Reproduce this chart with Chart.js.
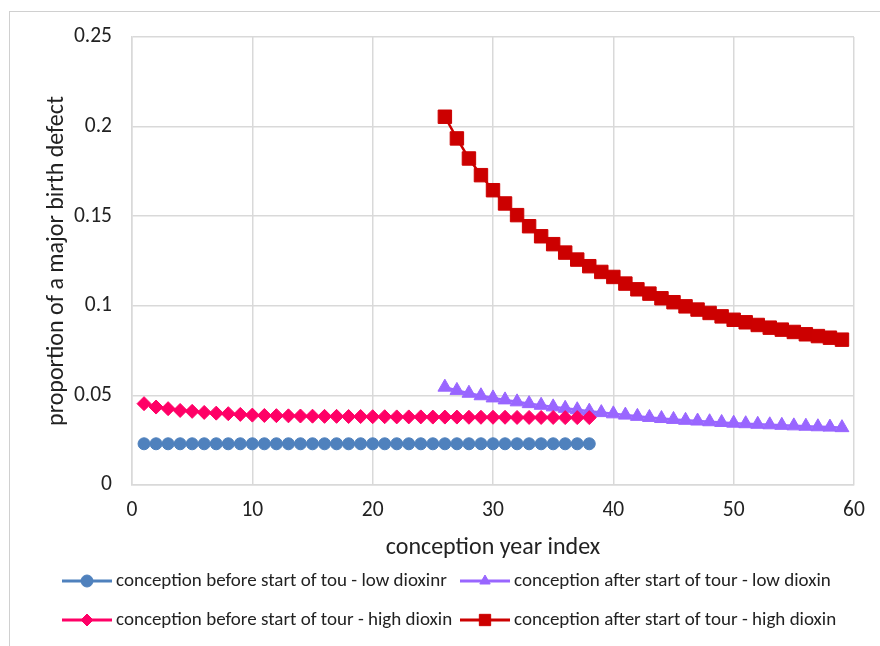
<!DOCTYPE html>
<html>
<head>
<meta charset="utf-8">
<script src="https://cdn.jsdelivr.net/npm/chart.js@4.4.1/dist/chart.umd.min.js"></script>
<style>
  html, body { margin: 0; padding: 0; background: #fff; overflow: hidden; }
  #wrap { position: relative; width: 880px; height: 646px; }
  #frame { position: absolute; left: 9px; top: 11px; width: 900px; height: 700px; border: 1px solid #d0d0d0; box-sizing: border-box; }
  canvas { position: absolute; left: 0; top: 0; }
</style>
</head>
<body>
<div id="wrap">
  <div id="frame"></div>
  <canvas id="chart" width="880" height="646"></canvas>
</div>
<script>
// conception year index
const yearsBefore = [1, 2, 3, 4, 5, 6, 7, 8, 9, 10, 11, 12, 13, 14, 15, 16, 17, 18, 19,
  20, 21, 22, 23, 24, 25, 26, 27, 28, 29, 30, 31, 32, 33, 34, 35, 36, 37, 38];
const yearsAfter = [26, 27, 28, 29, 30, 31, 32, 33, 34, 35, 36, 37, 38, 39, 40, 41, 42,
  43, 44, 45, 46, 47, 48, 49, 50, 51, 52, 53, 54, 55, 56, 57, 58, 59];

// proportion of a major birth defect
const beforeLow = [0.023, 0.023, 0.023, 0.023, 0.023, 0.023, 0.023, 0.023, 0.023, 0.023,
  0.023, 0.023, 0.023, 0.023, 0.023, 0.023, 0.023, 0.023, 0.023, 0.023, 0.023, 0.023,
  0.023, 0.023, 0.023, 0.023, 0.023, 0.023, 0.023, 0.023, 0.023, 0.023, 0.023, 0.023,
  0.023, 0.023, 0.023, 0.023];
const afterLow = [0.0546, 0.0528, 0.0512, 0.0498, 0.0486, 0.0475, 0.0464, 0.0454, 0.0445,
  0.0436, 0.0428, 0.0420, 0.0412, 0.0404, 0.0397, 0.0390, 0.0383, 0.0377, 0.0371, 0.0366,
  0.0361, 0.0357, 0.0353, 0.0349, 0.0345, 0.0342, 0.0339, 0.0336, 0.0333, 0.0330, 0.0328,
  0.0325, 0.0323, 0.0320];
const beforeHigh = [0.0454, 0.0435, 0.0426, 0.0416, 0.0411, 0.0405, 0.0401, 0.0398, 0.0394,
  0.0390, 0.0388, 0.0387, 0.0386, 0.0385, 0.0384, 0.0383, 0.0383, 0.0382, 0.0382, 0.0381,
  0.0381, 0.0380, 0.0380, 0.0380, 0.0379, 0.0379, 0.0379, 0.0378, 0.0378, 0.0378, 0.0378,
  0.0377, 0.0377, 0.0377, 0.0377, 0.0376, 0.0376, 0.0376];
const afterHigh = [0.2055, 0.1934, 0.1822, 0.1729, 0.1645, 0.1571, 0.1506, 0.1444, 0.1388,
  0.1344, 0.1297, 0.1258, 0.1221, 0.1189, 0.1161, 0.1124, 0.1092, 0.1068, 0.1042, 0.1020,
  0.0997, 0.0979, 0.0960, 0.0941, 0.0922, 0.0908, 0.0893, 0.0878, 0.0867, 0.0854, 0.0841,
  0.0831, 0.0822, 0.0811];

const seriesNames = [
  'conception before start of tou - low dioxinr',
  'conception after start of tour - low dioxin',
  'conception before start of tour - high dioxin',
  'conception after start of tour - high dioxin'
];

const FONT = "Carlito, Calibri, Lato, 'Open Sans', sans-serif";
const TEXT = '#222';
const GRID = '#d9d9d9';

function pts(xs, ys) {
  return xs.map((x, i) => ({ x: x, y: ys[i] }));
}

function series(label, xs, ys, color, style, radius, order) {
  return {
    label: label,
    data: pts(xs, ys),
    borderColor: color,
    backgroundColor: color,
    borderWidth: 2.5,
    pointStyle: style,
    pointRadius: radius,
    pointBorderWidth: 1,
    pointBorderColor: color,
    pointBackgroundColor: color,
    order: order
  };
}

// legend drawn as line + marker, in a 2 x 2 grid like the original
const gridLegend = {
  id: 'gridLegend',
  afterDraw(chart) {
    const ctx = chart.ctx;
    const cols = [62, 460];
    const rows = [581, 620];
    ctx.save();
    chart.data.datasets.forEach((ds, i) => {
      const x = cols[i % 2];
      const y = rows[Math.floor(i / 2)];
      ctx.strokeStyle = ds.borderColor;
      ctx.lineWidth = 3;
      ctx.beginPath();
      ctx.moveTo(x, y);
      ctx.lineTo(x + 50, y);
      ctx.stroke();
      ctx.fillStyle = ds.borderColor;
      ctx.strokeStyle = ds.borderColor;
      ctx.lineWidth = 1;
      Chart.helpers.drawPoint(ctx, {
        pointStyle: ds.pointStyle,
        radius: ds.pointStyle === 'rect' ? 8 : 6,
        borderWidth: 1,
        rotation: 0
      }, x + 25, y);
      ctx.fillStyle = TEXT;
      ctx.font = '19px ' + FONT;
      ctx.textBaseline = 'middle';
      ctx.textAlign = 'left';
      ctx.fillText(ds.label, x + 54, y);
    });
    ctx.restore();
  }
};

new Chart(document.getElementById('chart'), {
  type: 'line',
  data: {
    datasets: [
      series(seriesNames[0], yearsBefore, beforeLow, '#4f81bd', 'circle', 6, 4),
      series(seriesNames[1], yearsAfter, afterLow, '#9966ff', 'triangle', 8, 3),
      series(seriesNames[2], yearsBefore, beforeHigh, '#ff0066', 'rectRot', 7, 2),
      series(seriesNames[3], yearsAfter, afterHigh, '#cc0000', 'rect', 9.5, 1)
    ]
  },
  options: {
    responsive: false,
    animation: false,
    layout: { padding: { left: 0, right: 26, top: 37, bottom: 81 } },
    plugins: {
      legend: { display: false },
      tooltip: { enabled: false }
    },
    scales: {
      x: {
        type: 'linear',
        min: 0,
        max: 60,
        ticks: { stepSize: 10, padding: 13, color: TEXT, font: { size: 21.5, family: FONT } },
        grid: { color: GRID, lineWidth: 1.5, drawTicks: false },
        border: { color: GRID, width: 1.5 },
        title: {
          display: true,
          text: 'conception year index',
          color: TEXT,
          font: { size: 24, family: FONT },
          padding: { top: 0, bottom: 3 }
        },
        afterFit: s => { s.height = 80; }
      },
      y: {
        type: 'linear',
        min: 0,
        max: 0.25,
        ticks: {
          stepSize: 0.05,
          padding: 20,
          color: TEXT,
          font: { size: 21.5, family: FONT },
          callback: v => String(+v.toFixed(2))
        },
        grid: { color: GRID, lineWidth: 1.5, drawTicks: false },
        border: { color: GRID, width: 1.5 },
        title: {
          display: true,
          text: 'proportion of a major birth defect',
          color: TEXT,
          font: { size: 24, family: FONT },
          padding: { top: 43, bottom: 0 }
        },
        afterFit: s => { s.width = 132; }
      }
    }
  },
  plugins: [gridLegend]
});
</script>
</body>
</html>
